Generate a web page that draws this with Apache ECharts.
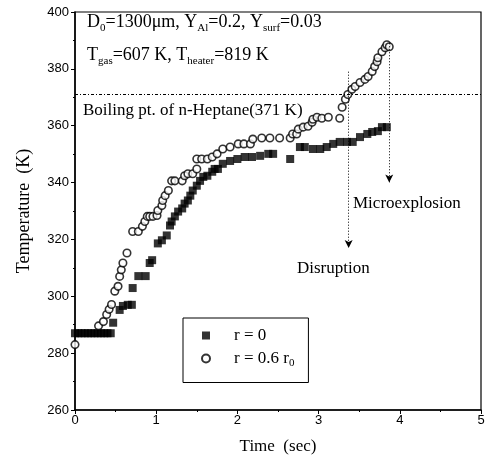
<!DOCTYPE html>
<html><head><meta charset="utf-8">
<script src="https://cdn.jsdelivr.net/npm/echarts@6/dist/echarts.min.js"></script>
<style>html,body{margin:0;padding:0;background:#fff}#c{width:488px;height:460px}</style>
</head><body><div id="c"></div>
<script>
// r = 0 (filled squares)
const sqTime = [0,0.04,0.08,0.12,0.16,0.2,0.24,0.28,0.32,0.36,0.40,0.44,0.47,0.55,0.59,0.65,0.70,0.71,0.78,0.87,0.92,0.95,1.02,1.07,1.13,1.17,1.19,1.23,1.27,1.32,1.35,1.39,1.42,1.45,1.50,1.54,1.58,1.63,1.69,1.72,1.76,1.82,1.91,2.0,2.09,2.18,2.28,2.38,2.44,2.65,2.77,2.83,2.93,3.02,3.10,3.18,3.26,3.35,3.42,3.51,3.60,3.66,3.73,3.78,3.84];
const sqTemp = [287,287,287,287,287,287,287,287,287,287,287,287,290.7,295.2,296.6,297.0,297.0,302.9,307.1,307.1,311.7,312.7,318.6,319.7,321.4,324.9,326.3,328.1,329.8,330.9,332.6,333.7,335.4,337.2,338.9,340.6,342.0,342.4,343.8,344.8,344.8,346.6,347.6,348.3,349.0,349.0,349.4,350.1,350.1,348.3,352.5,352.5,351.8,351.8,352.5,353.6,354.3,354.3,354.3,356.0,357.1,357.8,358.1,359.5,359.5];
// r = 0.6 r0 (open circles)
const ciTime = [0,0.29,0.35,0.39,0.42,0.45,0.49,0.53,0.55,0.57,0.59,0.64,0.71,0.78,0.83,0.86,0.89,0.92,0.96,1.01,1.02,1.07,1.08,1.11,1.15,1.19,1.23,1.32,1.35,1.39,1.45,1.50,1.50,1.56,1.63,1.69,1.75,1.82,1.91,2.01,2.08,2.16,2.19,2.30,2.40,2.52,2.65,2.68,2.73,2.75,2.81,2.87,2.92,2.93,2.98,3.04,3.12,3.26,3.29,3.33,3.36,3.41,3.45,3.51,3.57,3.61,3.66,3.69,3.72,3.73,3.78,3.82,3.84,3.87];
const ciTemp = [283,289.6,291.1,293.6,295.4,297.1,301.8,303.5,307.0,309.3,311.7,315.2,322.8,322.8,324.6,326.3,328.1,328.1,328.1,328.4,330.2,331.9,333.7,335.4,337.2,340.6,340.6,340.6,342.4,343.1,343.1,344.8,348.3,348.3,348.3,349.0,350.1,351.8,352.5,353.6,353.6,353.6,355.3,355.7,355.7,355.7,355.7,357.1,357.1,358.8,359.5,359.8,361.2,362.3,363.0,362.6,363.0,362.6,366.5,369.3,371.0,372.8,373.8,375.2,376.3,377.3,379.1,380.8,382.5,383.9,386.0,387.4,388.5,387.8];
// reference markers
const boilingPt = 371;
const disruption = {t: 3.37, from: 379, to: 317};
const microexplosion = {t: 3.87, from: 389, to: 340};
const xTicks = [0, 1, 2, 3, 4, 5];
const yTicks = [260, 280, 300, 320, 340, 360, 380, 400];

const serif = '"Liberation Serif", "Times New Roman", serif';
const sans = '"Liberation Sans", Arial, sans-serif';
const zip = (a, b) => a.map((v, i) => [v, b[i]]);

const subRich = {
  m: {fontFamily: serif, fontSize: 18, color: '#000', lineHeight: 24, verticalAlign: 'middle'},
  s: {fontFamily: serif, fontSize: 11, color: '#000', lineHeight: 11, verticalAlign: 'bottom'}
};

const chart = echarts.init(document.getElementById('c'), null, {renderer: 'canvas'});
chart.setOption({
  animation: false,
  backgroundColor: '#fff',
  grid: {left: 75, right: 7, top: 12, bottom: 47, show: true, borderColor: '#000', borderWidth: 1.2},
  xAxis: {
    type: 'value', min: xTicks[0], max: xTicks[xTicks.length - 1], interval: 1,
    name: 'Time  (sec)', nameLocation: 'middle', nameGap: 28,
    nameTextStyle: {fontFamily: serif, fontSize: 17, color: '#000'},
    axisLine: {onZero: false, lineStyle: {color: '#000', width: 1.5}},
    axisTick: {show: true, inside: false, length: 4, lineStyle: {color: '#000'}},
    minorTick: {show: true, splitNumber: 2, length: 2, lineStyle: {color: '#000'}},
    axisLabel: {fontFamily: sans, fontSize: 13, color: '#000', margin: 4},
    splitLine: {show: false}
  },
  yAxis: {
    type: 'value', min: yTicks[0], max: yTicks[yTicks.length - 1], interval: 20,
    name: 'Temperature  (K)', nameLocation: 'middle', nameGap: 42,
    nameTextStyle: {fontFamily: serif, fontSize: 18, color: '#000'},
    axisLine: {onZero: false, lineStyle: {color: '#000', width: 1.5}},
    axisTick: {show: true, inside: false, length: 4, lineStyle: {color: '#000'}},
    minorTick: {show: true, splitNumber: 2, length: 2, lineStyle: {color: '#000'}},
    axisLabel: {fontFamily: sans, fontSize: 13, color: '#000', margin: 6},
    splitLine: {show: false}
  },
  legend: {
    left: 183, top: 318, orient: 'vertical',
    borderColor: '#000', borderWidth: 1,
    padding: [9, 14, 14, 18], itemGap: 6, itemWidth: 8, itemHeight: 8,
    selectedMode: false,
    data: ['r = 0', 'r = 0.6 r0'],
    formatter: n => n === 'r = 0.6 r0' ? '{g|}{m|r = 0.6 r}{s|0}' : '{g|}{m|' + n + '}',
    textStyle: {rich: {
      g: {width: 19, lineHeight: 20},
      m: {fontFamily: serif, fontSize: 17, color: '#000', lineHeight: 20},
      s: {fontFamily: serif, fontSize: 11, color: '#000', lineHeight: 11, verticalAlign: 'bottom'}
    }}
  },
  series: [
    {
      name: 'r = 0', type: 'scatter', symbol: 'rect', symbolSize: 8,
      itemStyle: {color: '#000'},
      data: zip(sqTime, sqTemp), z: 3
    },
    {
      name: 'r = 0.6 r0', type: 'scatter', symbol: 'circle', symbolSize: 7.5,
      itemStyle: {color: '#fff', borderColor: '#000', borderWidth: 1.6},
      data: zip(ciTime, ciTemp), z: 4,
      markLine: {
        silent: true, symbolSize: [6, 8],
        label: {show: false},
        data: [
          [{coord: [xTicks[0], boilingPt], symbol: 'none'}, {coord: [xTicks[xTicks.length - 1], boilingPt], symbol: 'none', lineStyle: {color: '#000', width: 1, type: [3, 2, 1, 2]}}],
          [{coord: [disruption.t, disruption.from], symbol: 'none'}, {coord: [disruption.t, disruption.to], symbol: 'arrow', lineStyle: {color: '#000', width: 1, type: [1, 2]}}],
          [{coord: [microexplosion.t, microexplosion.from], symbol: 'none'}, {coord: [microexplosion.t, microexplosion.to], symbol: 'arrow', lineStyle: {color: '#000', width: 1, type: [1, 2]}}]
        ],
        lineStyle: {color: '#000', width: 1, type: [1, 2]}
      }
    }
  ],
  graphic: [
    {type: 'text', left: 87, top: 13, z: 10, style: {text: '{m|D}{s|0}{m|=1300μm, Y}{s|Al}{m|=0.2, Y}{s|surf}{m|=0.03}', rich: subRich}},
    {type: 'text', left: 87, top: 46, z: 10, style: {text: '{m|T}{s|gas}{m|=607 K, T}{s|heater}{m|=819 K}', rich: subRich}},
    {type: 'text', left: 83, top: 102, z: 10, style: {text: 'Boiling pt. of n-Heptane(371 K)', font: '17px ' + serif, fill: '#000'}},
    {type: 'text', left: 353, top: 195, z: 10, style: {text: 'Microexplosion', font: '17px ' + serif, fill: '#000'}},
    {type: 'text', left: 297, top: 260, z: 10, style: {text: 'Disruption', font: '17px ' + serif, fill: '#000'}}
  ]
});
</script></body></html>
